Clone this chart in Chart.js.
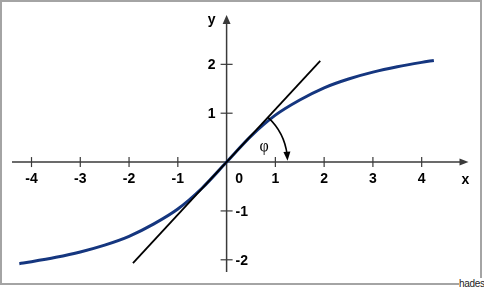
<!DOCTYPE html>
<html>
<head>
<meta charset="utf-8">
<script src="https://cdn.jsdelivr.net/npm/chart.js@4.4.1/dist/chart.umd.min.js"></script>
<style>
    html, body { margin: 0; padding: 0; background: #fff; }
    .wrap { position: relative; width: 484px; height: 289px; overflow: hidden; }
    .frame { position: absolute; left: 0; top: 0; width: 482px; height: 285px; box-sizing: border-box; border: 2px solid #a4a4a4; }
    #plot { position: absolute; left: 0; top: 0; }
    .credit { position: absolute; left: 459px; top: 278px; width: 25px; height: 11px; background: #fff; font: 10px "Liberation Sans Narrow", "Liberation Sans", Arial, sans-serif; color: #222; line-height: 11px; letter-spacing: -0.3px; }
</style>
</head>
<body>
<div class="wrap">
    <div class="frame"></div>
    <canvas id="plot" width="484" height="289"></canvas>
    <div class="credit">hades</div>
</div>
<script>
const curveX = [-4.25, -4, -3.5, -3, -2.5, -2, -1.5, -1, -0.5, 0, 0.5, 1, 1.5, 2, 2.5, 3, 3.5, 4, 4.25];
const curveY = [-2.08, -2.04, -1.95, -1.84, -1.70, -1.52, -1.27, -0.96, -0.53, 0, 0.53, 0.96, 1.27, 1.52, 1.70, 1.84, 1.95, 2.04, 2.08];
const tangentX = [-1.92, 1.92];
const tangentY = [-2.07, 2.07];
const xTicks = [-4, -3, -2, -1, 1, 2, 3, 4];
const yTicks = [-2, -1, 1, 2];
const arcRadius = 1.25;
const angleLabel = 'φ';

const axisColor = '#3a3a3a';
const labelFont = 'bold 14px "Liberation Sans", Arial, sans-serif';

function line(ctx, x1, y1, x2, y2) {
    ctx.beginPath();
    ctx.moveTo(x1, y1);
    ctx.lineTo(x2, y2);
    ctx.stroke();
}

function arrowHead(ctx, tipX, tipY, angle, len, half) {
    ctx.save();
    ctx.translate(tipX, tipY);
    ctx.rotate(angle);
    ctx.beginPath();
    ctx.moveTo(0, 0);
    ctx.lineTo(-len, -half);
    ctx.lineTo(-len, half);
    ctx.closePath();
    ctx.fill();
    ctx.restore();
}

const axesPlugin = {
    id: 'axesPlugin',
    beforeDatasetsDraw(chart) {
        const ctx = chart.ctx;
        const area = chart.chartArea;
        const sx = chart.scales.x, sy = chart.scales.y;
        const ox = sx.getPixelForValue(0), oy = sy.getPixelForValue(0);

        ctx.save();
        ctx.strokeStyle = axisColor;
        ctx.fillStyle = axisColor;
        ctx.lineWidth = 1.5;

        // axes with arrows
        line(ctx, area.left, oy, area.right - 6, oy);
        arrowHead(ctx, area.right, oy, 0, 9, 3.5);
        line(ctx, ox, area.bottom, ox, area.top + 6);
        arrowHead(ctx, ox, area.top, -Math.PI / 2, 9, 4);

        // tick marks crossing the axes
        ctx.lineWidth = 1.2;
        xTicks.forEach(v => {
            const px = sx.getPixelForValue(v);
            line(ctx, px, oy - 5, px, oy + 5);
        });
        yTicks.forEach(v => {
            const py = sy.getPixelForValue(v);
            line(ctx, ox - 6, py, ox + 6, py);
        });

        // tick labels
        ctx.fillStyle = '#000';
        ctx.font = labelFont;
        ctx.textBaseline = 'middle';
        ctx.textAlign = 'center';
        xTicks.forEach(v => ctx.fillText(String(v), sx.getPixelForValue(v), oy + 17));
        ctx.fillText('0', ox + 12.5, oy + 17);
        yTicks.forEach(v => {
            const py = sy.getPixelForValue(v);
            if (v > 0) {
                ctx.textAlign = 'right';
                ctx.fillText(String(v), ox - 11, py + 1);
            } else {
                ctx.textAlign = 'left';
                ctx.fillText(String(v), ox + 9, py + 1);
            }
        });

        // axis names
        ctx.textAlign = 'center';
        ctx.fillText('x', area.right - 3, oy + 18);
        ctx.fillText('y', ox - 15, area.top + 5);
        ctx.restore();
    },
    afterDatasetsDraw(chart) {
        const ctx = chart.ctx;
        const sx = chart.scales.x, sy = chart.scales.y;
        const ox = sx.getPixelForValue(0), oy = sy.getPixelForValue(0);
        const r = sx.getPixelForValue(arcRadius) - ox;
        const tx = sx.getPixelForValue(tangentX[1]), ty = sy.getPixelForValue(tangentY[1]);
        const start = Math.atan2(ty - oy, tx - ox);
        const end = -0.02;

        ctx.save();
        ctx.strokeStyle = '#000';
        ctx.fillStyle = '#000';
        ctx.lineWidth = 1.6;
        ctx.beginPath();
        ctx.arc(ox, oy, r, start, end - 0.1, false);
        ctx.stroke();
        arrowHead(ctx, ox + r * Math.cos(end), oy + r * Math.sin(end), end + Math.PI / 2 - 0.05, 9, 3.5);

        ctx.font = '16px "Liberation Serif", "Times New Roman", serif';
        ctx.textAlign = 'center';
        ctx.textBaseline = 'middle';
        ctx.fillText(angleLabel, ox + 37.5, oy - 15);
        ctx.restore();
    }
};

const ctx = document.getElementById('plot').getContext('2d');
new Chart(ctx, {
    type: 'scatter',
    data: {
        datasets: [
            {
                data: tangentX.map((x, i) => ({ x: x, y: tangentY[i] })),
                showLine: true,
                borderColor: '#000',
                borderWidth: 1.8,
                pointRadius: 0,
                fill: false
            },
            {
                data: curveX.map((x, i) => ({ x: x, y: curveY[i] })),
                showLine: true,
                borderColor: '#15367f',
                borderWidth: 3,
                pointRadius: 0,
                cubicInterpolationMode: 'monotone',
                fill: false
            }
        ]
    },
    options: {
        responsive: false,
        animation: false,
        layout: { padding: { left: 12, top: 15, right: 15.5, bottom: 17 } },
        plugins: { legend: { display: false }, tooltip: { enabled: false } },
        scales: {
            x: { type: 'linear', min: -4.40, max: 4.96, display: false },
            y: { type: 'linear', min: -2.25, max: 3.01, display: false }
        }
    },
    plugins: [axesPlugin]
});
</script>
</body>
</html>
